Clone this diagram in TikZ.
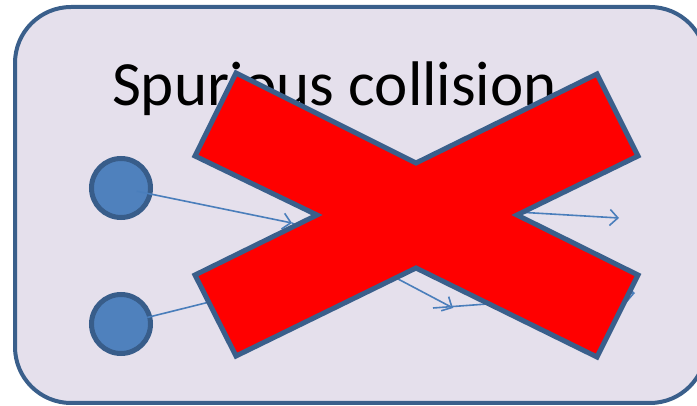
\documentclass[tikz,border=0pt]{standalone}
\usepackage{fontspec}
\setmainfont{Carlito}
\usetikzlibrary{arrows.meta, positioning, calc}
\definecolor{framecol}{HTML}{3A5F8B}
\definecolor{panelcol}{HTML}{E5E0EC}
\definecolor{ballcol}{HTML}{4F81BD}
\definecolor{ballline}{HTML}{385D8A}
\definecolor{pathcol}{HTML}{4A7EBB}
\tikzset{
  panel/.style={
    draw=framecol, fill=panelcol, line width=4pt, rounded corners=56pt
  },
  ball/.style={
    circle, draw=ballline, fill=ballcol, line width=5pt,
    minimum size=59pt, inner sep=0pt
  },
  titletext/.style={
    font=\fontsize{63}{70}\selectfont, inner sep=0pt, anchor=base
  },
  motion/.style={
    draw=pathcol, line width=1.6pt, -{Straight Barb[length=8pt,width=16pt]}
  },
  cross/.style={
    draw=framecol, fill=red, line width=5pt, line join=miter
  },
}

\begin{document}
\begin{tikzpicture}[x=1pt, y=-1pt]

  \useasboundingbox (0,0) rectangle (697,406);
  \clip (0,0) rectangle (697,406);

  %%% Panel and title %%%
  \draw[panel] (15,7) rectangle (706,403);
  \node[titletext] (title) at (334.5,106) {Spurious collision};

  %%% Balls %%%
  \node[ball] (ballA) at (121,188) {};
  \node[ball, below=72pt of ballA] (ballB) {};

  %%% Motion arrows %%%
  \coordinate (hitA) at (292,223);
  \coordinate (hitB) at (330,272);
  \coordinate (bounceA) at (453,308);
  \coordinate (fromB) at (433,308);
  \coordinate (bounceB) at (635,293);
  \coordinate (fromC) at (500,211);
  \coordinate (bounceC) at (619,218);

  \draw[motion, shorten <=16pt] (ballA.center) -- (hitA);
  \draw[motion, shorten <=27pt] (ballB.center) -- (hitB);
  \draw[motion] (hitA) -- (bounceA);
  \draw[motion] (fromB) -- (bounceB);
  \draw[motion] (fromC) -- (bounceC);

  %%% Cross %%%
  \draw[cross] (236,73) -- (416,163) -- (597,74) -- (638,156) -- (517,215)
    -- (638,275) -- (597,357) -- (416,268) -- (236,356) -- (195,275)
    -- (317,215) -- (195,156) -- cycle;

\end{tikzpicture}
\end{document}
